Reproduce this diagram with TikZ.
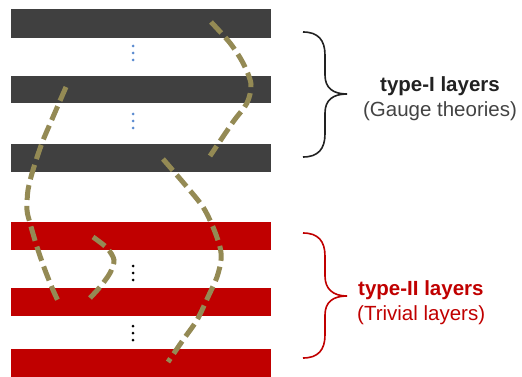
\documentclass[tikz,border=0pt]{standalone}
\usepackage{fontspec}
\setmainfont{Liberation Sans}
\usepackage{xcolor}
\usepackage{tikz}

\definecolor{bargrey}{HTML}{404040}
\definecolor{barred}{HTML}{C00000}
\definecolor{dotblue}{HTML}{5B8BD0}
\definecolor{stringtan}{HTML}{948A54}
\definecolor{bracegrey}{HTML}{222222}

\begin{document}
\begin{tikzpicture}[x=1pt,y=-1pt,
    string/.style={stringtan, line width=5pt, dash pattern=on 15pt off 6pt},
    layerbrace/.style={line width=1.6pt},
    label/.style={font=\fontsize{20.5}{24}\selectfont, inner sep=0pt}]
                \useasboundingbox (0,0) rectangle (522,377);

                % Type-I layers (gauge theories)
                \fill[bargrey] (11,9) rectangle (271,38);
                \fill[bargrey] (11,76) rectangle (271,103);
                \fill[bargrey] (11,144) rectangle (271,172);
                \fill[dotblue] (133,46) circle (1.5) (133,53) circle (1.5) (133,60) circle (1.5);
                \fill[dotblue] (133,114) circle (1.5) (133,121) circle (1.5) (133,128) circle (1.5);

                % Type-II layers (trivial layers)
                \fill[barred] (11,222) rectangle (271,250);
                \fill[barred] (11,288) rectangle (271,316);
                \fill[barred] (11,349) rectangle (271,377);
                \fill[black] (133,266) circle (1.5) (133,273) circle (1.5) (133,280) circle (1.5);
                \fill[black] (133,326) circle (1.5) (133,333) circle (1.5) (133,340) circle (1.5);

                % Strings through the layers
                \draw[string] plot[smooth] coordinates {(211,22) (230,43) (243,63) (251,84) (247,103) (233,122) (210,156)};
                \draw[string] plot[smooth] coordinates {(66,87) (53,117) (42,143) (33,170) (28,190) (27,210) (30,223) (37,247) (45,270) (53,290) (59,303)};
                \draw[string] plot[smooth] coordinates {(93,237) (107,248) (114,260) (110,273) (100,287) (90,298)};
                \draw[string] plot[smooth] coordinates {(163,159) (187,187) (203,207) (213,227) (220,247) (221,260) (217,277) (208,297) (197,320) (183,340) (168,362)};

                % Braces
                \draw[bracegrey, layerbrace] (303,32) .. controls (318,32) and (325,40) .. (325,55) -- (325,75)
                    .. controls (325,88) and (333,94) .. (347,94)
                    .. controls (333,94) and (325,100) .. (325,113) -- (325,134)
                    .. controls (325,149) and (318,157) .. (303,157);
                \draw[barred, layerbrace] (303,233) .. controls (318,233) and (325,241) .. (325,256) -- (325,276)
                    .. controls (325,289) and (333,296) .. (347,296)
                    .. controls (333,296) and (325,302) .. (325,315) -- (325,335)
                    .. controls (325,350) and (318,358) .. (303,358);

                % Labels
                \node[label, anchor=base, text=bracegrey, font=\fontsize{20.5}{24}\selectfont\bfseries] (typeI) at (440,92) {type-I layers};
                \node[label, anchor=base, text=bracegrey!85] (gauge) at (440,117) {(Gauge theories)};
                \node[label, anchor=base west, text=barred, font=\fontsize{20.5}{24}\selectfont\bfseries] (typeII) at (358,295) {type-II layers};
                \node[label, anchor=base west, text=barred] (trivial) at (357,320) {(Trivial layers)};
            \end{tikzpicture}
\end{document}
